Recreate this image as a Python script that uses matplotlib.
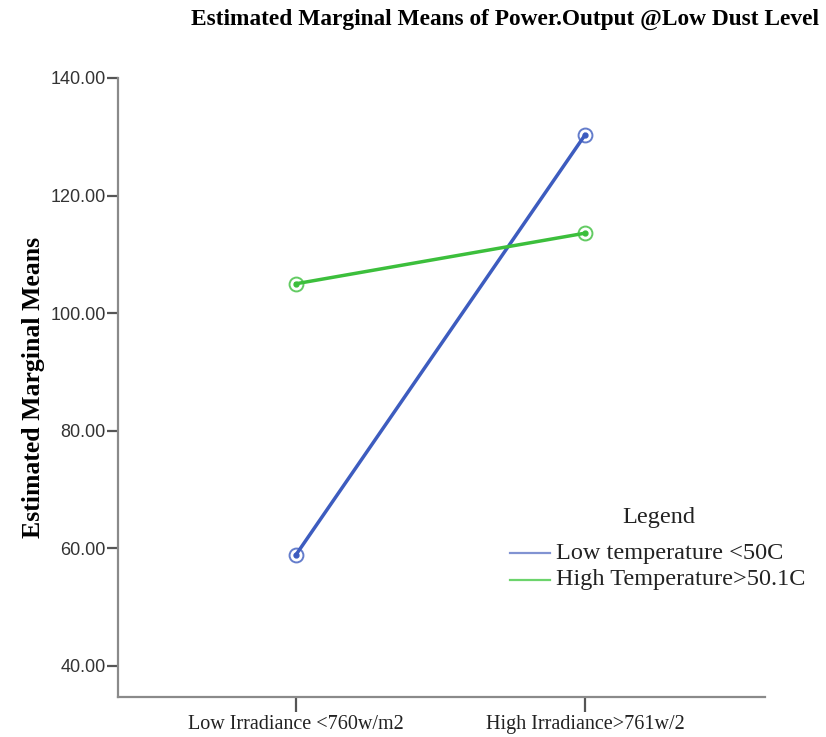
import matplotlib
matplotlib.use("Agg")
import matplotlib.pyplot as plt
from matplotlib.lines import Line2D

categories = ["Low Irradiance <760w/m2", "High Irradiance>761w/2"]
series_names = ["Low temperature <50C", "High Temperature>50.1C"]
low_temp = [58.9, 130.3]
high_temp = [105.0, 113.6]
y_ticks = [40, 60, 80, 100, 120, 140]

colors = ["#3d5cbf", "#3cbf3c"]
legend_colors = ["#8193d2", "#6cd46c"]

serif = ["Liberation Serif", "DejaVu Serif"]
sans = ["Liberation Sans", "DejaVu Sans"]

W, H = 826, 737
fig = plt.figure(figsize=(W / 100, H / 100), dpi=100)
ax = fig.add_axes([118 / W, 40 / H, (765 - 118) / W, (697 - 78) / H])

x = list(range(len(categories)))
for vals, c in zip([low_temp, high_temp], colors):
    ax.plot(x, vals, color=c, lw=2.5, zorder=2)
    ax.plot(x, vals, ls="none", marker="o", ms=10, mfc="none", mec=c, mew=1.4, alpha=0.8, zorder=3)
    ax.plot(x, vals, ls="none", marker="o", ms=3.5, mfc=c, mec=c, zorder=4)

ax.set_xlim(-0.616, 1.623)
ax.set_ylim(34.7, 140)
ax.set_yticks(y_ticks)
ax.set_yticklabels([f"{v:.2f}" for v in y_ticks], fontfamily=sans, fontsize=13, color="#333333")
ax.set_xticks(x)
ax.set_xticklabels(categories, fontfamily=serif, fontsize=14.5, color="#222222")

for s in ["top", "right"]:
    ax.spines[s].set_visible(False)
for s in ["left", "bottom"]:
    ax.spines[s].set_color("#8a8a8a")
    ax.spines[s].set_linewidth(1.6)
ax.tick_params(axis="y", direction="out", length=8, width=1.6, color="#555555", pad=1)
ax.tick_params(axis="x", direction="out", length=11, width=1.6, color="#555555", pad=2)

ax.set_ylabel("Estimated Marginal Means", fontfamily=serif, fontsize=18.5, fontweight="bold", labelpad=4)

fig.text(505 / W, 1 - 19 / H, "Estimated Marginal Means of Power.Output @Low Dust Level",
         fontfamily=serif, fontsize=16.8, fontweight="bold", ha="center", va="center")

# legend drawn in figure pixel coordinates
fig.text(659 / W, 1 - 517 / H, "Legend", fontfamily=serif, fontsize=17.5,
         ha="center", va="center", color="#222222")
for i, (name, c) in enumerate(zip(series_names, legend_colors)):
    yy = 1 - (553 + 27 * i) / H
    fig.add_artist(Line2D([510 / W, 550 / W], [yy, yy], color=c, lw=1.6, transform=fig.transFigure))
    fig.text(556 / W, yy, name, fontfamily=serif, fontsize=17.5, ha="left", va="center", color="#222222")

fig.savefig("out.png", dpi=100, facecolor="white")
